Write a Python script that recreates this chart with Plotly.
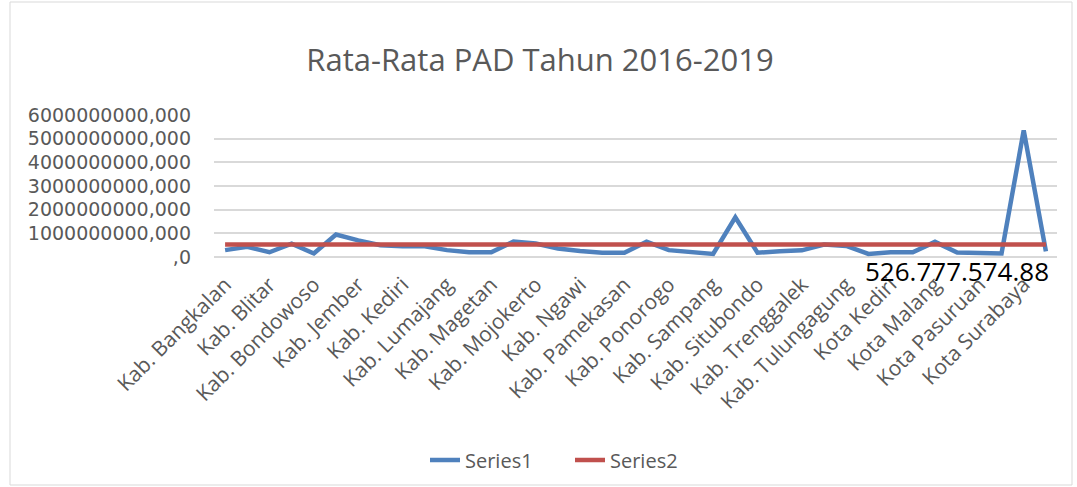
import plotly.graph_objects as go

categories = [
    "Kab. Bangkalan", "Kab. Banyuwangi", "Kab. Blitar", "Kab. Bojonegoro", "Kab. Bondowoso",
    "Kab. Gresik", "Kab. Jember", "Kab. Jombang", "Kab. Kediri", "Kab. Lamongan",
    "Kab. Lumajang", "Kab. Madiun", "Kab. Magetan", "Kab. Malang", "Kab. Mojokerto",
    "Kab. Nganjuk", "Kab. Ngawi", "Kab. Pacitan", "Kab. Pamekasan", "Kab. Pasuruan",
    "Kab. Ponorogo", "Kab. Probolinggo", "Kab. Sampang", "Kab. Sidoarjo", "Kab. Situbondo",
    "Kab. Sumenep", "Kab. Trenggalek", "Kab. Tuban", "Kab. Tulungagung", "Kota Blitar",
    "Kota Kediri", "Kota Madiun", "Kota Malang", "Kota Mojokerto", "Kota Pasuruan",
    "Kota Probolinggo", "Kota Surabaya", "Kota Batu",
]

series1 = [
    290e6, 430e6, 200e6, 560e6, 150e6,
    950e6, 700e6, 500e6, 450e6, 450e6,
    290e6, 200e6, 200e6, 650e6, 570e6,
    360e6, 250e6, 180e6, 180e6, 650e6,
    290e6, 220e6, 130e6, 1680e6, 180e6,
    240e6, 280e6, 530e6, 470e6, 130e6,
    200e6, 200e6, 640e6, 190e6, 150e6,
    150e6, 5350e6, 240e6,
]

series2_value = 526777574.88
series2 = [series2_value] * len(categories)

y_tickvals = [0, 1e9, 2e9, 3e9, 4e9, 5e9, 6e9]
y_ticktext = [",0", "1000000000,000", "2000000000,000", "3000000000,000",
              "4000000000,000", "5000000000,000", "6000000000,000"]

title_text = "Rata-Rata PAD Tahun 2016-2019"
label_text = "526.777.574.88"

FONT = "Open Sans"
GREY = "#595959"

W, H = 1077, 487
L, R, T, B = 214, 20, 115, 230
pw, ph = W - L - R, H - T - B


def px_x(p):
    return (p - L) / pw


def px_y(p):
    return (H - B - p) / ph


fig = go.Figure()
fig.add_trace(go.Scatter(x=categories, y=series1, mode="lines", name="Series1",
                         line=dict(color="#4f81bd", width=4.5)))
fig.add_trace(go.Scatter(x=categories, y=series2, mode="lines", name="Series2",
                         line=dict(color="#c0504d", width=4.5)))

fig.add_annotation(x=categories[-1], y=series2_value, text=label_text,
                   showarrow=False, xanchor="right", yanchor="middle",
                   xshift=5, yshift=-26,
                   font=dict(family=FONT, size=26, color="#000000"))

fig.add_shape(type="rect", xref="paper", yref="paper",
              x0=px_x(10), x1=px_x(1072), y0=px_y(485), y1=px_y(2),
              line=dict(color="#d9d9d9", width=1), layer="below")

fig.update_layout(
    width=W, height=H,
    margin=dict(l=L, r=R, t=T, b=B, autoexpand=False),
    paper_bgcolor="white", plot_bgcolor="white",
    title=dict(text=title_text, x=540 / W, xanchor="center",
               y=1 - 60 / H, yanchor="middle", yref="container",
               font=dict(family=FONT, size=31, color=GREY)),
    font=dict(family=FONT, size=20, color=GREY),
    showlegend=True,
    legend=dict(orientation="h", x=px_x(425), xanchor="left",
                y=px_y(460), yanchor="middle", entrywidth=100,
                font=dict(family=FONT, size=20, color=GREY),
                bgcolor="rgba(0,0,0,0)"),
    xaxis=dict(type="category", tickmode="array", tickvals=categories[::2],
               ticktext=categories[::2], tickangle=-45, showgrid=False,
               showline=False, ticks="outside", ticklen=6,
               tickcolor="rgba(0,0,0,0)", automargin=False,
               range=[-0.5, len(categories) - 0.5],
               tickfont=dict(family=FONT, size=21, color=GREY)),
    yaxis=dict(range=[0, 6e9], tickmode="array", tickvals=y_tickvals,
               ticktext=y_ticktext, showgrid=True, gridcolor="#d9d9d9",
               gridwidth=1.5, zeroline=True, zerolinecolor="#d9d9d9",
               zerolinewidth=1.5, showline=False, ticks="", automargin=False,
               ticklabelstandoff=22,
               tickfont=dict(family="DejaVu Sans", size=19, color=GREY)),
)

fig.write_html("out.html", config={"displayModeBar": False},
               post_script="document.body.style.margin='0px';")
